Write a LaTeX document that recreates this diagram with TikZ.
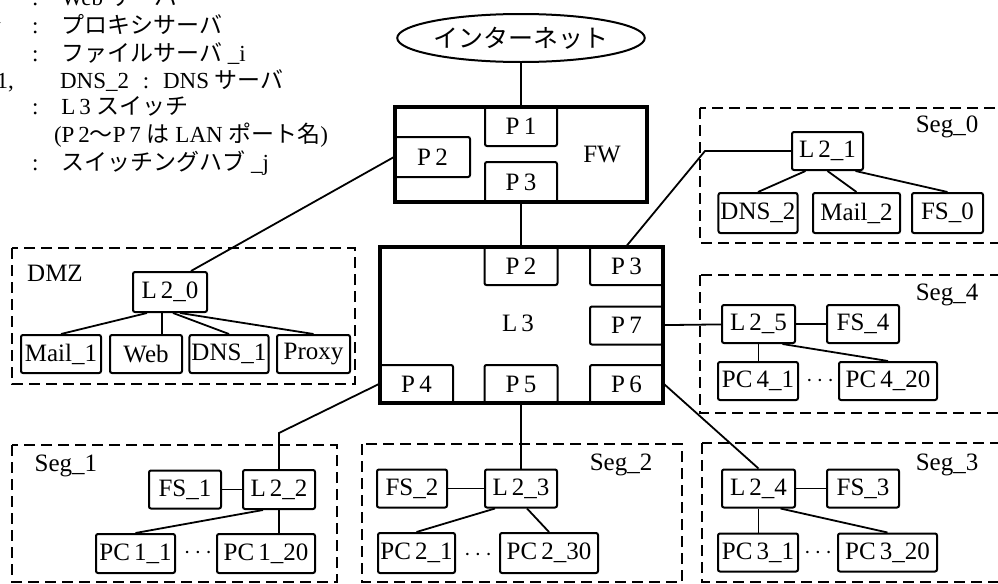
\documentclass[tikz,border=0pt]{standalone}
\usepackage{fontspec}
\setmainfont{Liberation Serif}
\newfontfamily\jp{Noto Sans CJK JP}
\usetikzlibrary{positioning}
\usetikzlibrary{shapes.geometric}
\tikzstyle{dev}=[draw,line width=1pt,rounded corners=1pt,inner sep=1pt,minimum height=19pt]
\tikzstyle{port}=[dev,minimum width=36.5pt]
\tikzstyle{unit}=[draw,line width=1.7pt,inner sep=0pt]
\tikzstyle{seg}=[line width=1pt,dash pattern=on 5.5pt off 3pt]
\tikzstyle{link}=[line width=.9pt]
\tikzstyle{legend}=[anchor=base west,font=\fontsize{11.5}{13}\selectfont]

\begin{document}
\begin{tikzpicture}[x=.5pt,y=-.5pt,every node/.style={font=\fontsize{12.5}{14}\selectfont}]
	\useasboundingbox (0,0) rectangle (998,584);
	\clip (0,0) rectangle (998,584);

	% legend (cut at the left and top)
	\node[legend] (lg1) at (25,5)   {:\hspace{1em}Web {\jp サーバ}};
	\node[legend,anchor=base east] (lgy) at (8,33) {y};
	\node[legend] (lg2) at (25,33)  {:\hspace{1em}{\jp プロキシサーバ}};
	\node[legend] (lg3) at (25,61)  {:\hspace{1em}{\jp ファイルサーバ} \_i};
	\node[legend,anchor=base east] (lgd) at (21,88) {\_1,};
	\node[legend] (lg4) at (53,88)  {DNS\_2\hspace{.6em}:\hspace{.6em}DNS {\jp サーバ}};
	\node[legend] (lg5) at (25,114) {:\hspace{1em}L\,3 {\jp スイッチ}};
	\node[legend] (lg6) at (47,142) {(P\,2{\jp ～}P\,7 {\jp は} LAN {\jp ポート名})};
	\node[legend,anchor=base east] (lgi) at (5,170) {i};
	\node[legend] (lg7) at (25,170) {:\hspace{1em}{\jp スイッチングハブ} \_j};

	% internet and FW
	\node[draw,ellipse,line width=1pt,inner sep=0pt,minimum width=101pt,minimum height=24pt] (inet) at (521,38) {\jp インターネット};
	\node[unit,minimum width=126pt,minimum height=47.5pt] (fw) at (521,154.5) {};
	\node (fwname) at (602,155) {FW};
	\node[port,minimum width=36pt,minimum height=19.5pt] (fwp1) at (521,126.5) {P\,1};
	\node[port,minimum width=37.5pt,minimum height=20pt] (fwp2) at (432.5,157) {P\,2};
	\node[port,minimum width=36pt,minimum height=20pt] (fwp3) at (521,182) {P\,3};

	% L3 switch
	\node[unit,minimum width=141.5pt,minimum height=78pt] (l3) at (521.5,325) {};
	\node (l3name) at (518,323) {L\,3};
	\foreach \n/\x/\y in {2/521/266, 3/626.5/266, 7/626.5/325.5, 4/416.5/384, 5/521/384, 6/626.5/384}
		\node[port] (l3p\n) at (\x,\y) {P\,\n};

	% DMZ
	\draw[seg] (12,248) rectangle (355,384);
	\node (dmzname) at (55,273) {DMZ};
	\node[dev,minimum width=37pt,minimum height=20pt] (l20) at (170,292) {L\,2\_0};
	\node[dev,minimum width=40pt] (mail1) at (61,354) {Mail\_1};
	\node[dev,minimum width=36pt] (web) at (146,354) {Web};
	\node[dev,minimum width=38pt] (dns1) at (229,354) {DNS\_1};
	\node[dev,minimum width=36.5pt] (proxy) at (313.5,354) {Proxy};

	% Seg_0
	\draw[seg] (700,108) rectangle (1010,243);
	\node (seg0name) at (947,127) {Seg\_0};
	\node[dev,minimum width=35.5pt] (l21) at (827.5,151) {L\,2\_1};
	\node[dev,minimum width=37pt,minimum height=20pt] (dns2) at (758,213) {DNS\_2};
	\node[dev,minimum width=43.5pt,minimum height=20pt] (mail2) at (856.5,213) {Mail\_2};
	\node[dev,minimum width=35.5pt,minimum height=20pt] (fs0) at (947.5,213) {FS\_0};

	% Seg_4
	\draw[seg] (700,275) rectangle (1010,413);
	\node (seg4name) at (947,295) {Seg\_4};
	\node[dev,minimum width=36.5pt] (l25) at (758.5,324) {L\,2\_5};
	\node[dev,minimum width=36pt,right=15pt of l25] (fs4) {FS\_4};
	\node[dev,minimum width=40pt] (pc41) at (758,381) {PC\,4\_1};
	\node[dev,minimum width=49pt] (pc420) at (888,381) {PC\,4\_20};
	\node (dots4) at (820,381) {$\cdots$};

	% Seg_1
	\draw[seg] (12,445) rectangle (337,582);
	\node (seg1name) at (66,466) {Seg\_1};
	\node[dev,minimum width=36pt,minimum height=19.5pt] (l22) at (279,489.5) {L\,2\_2};
	\node[dev,minimum width=36pt,left=10pt of l22] (fs1) {FS\_1};
	\node[dev,minimum width=39.5pt,minimum height=19.5pt] (pc11) at (135.5,553.5) {PC\,1\_1};
	\node[dev,minimum width=49pt,minimum height=19.5pt] (pc120) at (266,553.5) {PC\,1\_20};
	\node (dots1) at (198,553) {$\cdots$};

	% Seg_2
	\draw[seg] (362,444) rectangle (682,582);
	\node (seg2name) at (621,465) {Seg\_2};
	\node[dev,minimum width=36pt] (l23) at (521,488.5) {L\,2\_3};
	\node[dev,minimum width=35pt,left=18pt of l23] (fs2) {FS\_2};
	\node[dev,minimum width=38.5pt,minimum height=20pt] (pc21) at (416.5,553) {PC\,2\_1};
	\node[dev,minimum width=49pt,minimum height=20pt] (pc230) at (549,553) {PC\,2\_30};
	\node (dots2) at (478,555) {$\cdots$};

	% Seg_3
	\draw[seg] (702,443) rectangle (1010,582);
	\node (seg3name) at (947,465) {Seg\_3};
	\node[dev,minimum width=36.5pt] (l24) at (758.5,488.5) {L\,2\_4};
	\node[dev,minimum width=36pt,right=15pt of l24] (fs3) {FS\_3};
	\node[dev,minimum width=40pt] (pc31) at (758,552.5) {PC\,3\_1};
	\node[dev,minimum width=49.5pt] (pc320) at (887.5,552.5) {PC\,3\_20};
	\node (dots3) at (818,553) {$\cdots$};

	% links
	\coordinate (k0) at (705,151);
	\coordinate (k1) at (279,433);
	\draw[link] (inet) -- (fwp1);
	\draw[link] (fwp3) -- (l3p2);
	\draw[link] (fwp2.west) -- (l20.45);
	\draw[link] (l3p3.north) -- (k0) -- (l21.west);
	\draw[link] (l3p7) -- (l25);
	\draw[link] (l3p6.east) -- (l24.north);
	\draw[link] (l3p5) -- (l23);
	\draw[link] (l3p4.west) -- (k1) -- (l22.north);

	\draw[link] ([xshift=-11.5pt]l20.south) -- (mail1.north);
	\draw[link] ([xshift=-4pt]l20.south) coordinate (w0) -- (w0 |- web.north);
	\draw[link] ([xshift=1.5pt]l20.south) -- (dns1.north);
	\draw[link] ([xshift=5pt]l20.south) -- (proxy.north);

	\draw[link] ([xshift=-11pt]l21.south) -- (dns2.north);
	\draw[link] (l21.south) -- (mail2.north);
	\draw[link] ([xshift=14pt]l21.south) -- (fs0.north);

	\draw[link] (l25) -- (fs4);
	\draw[link] (l25.south) -- (l25.south |- pc41.north);
	\draw[link] ([xshift=12pt]l25.south) -- (pc420.north);

	\draw[link] (fs1) -- (l22);
	\draw[link] (l22.south) -- (l22.south |- pc120.north);
	\draw[link] ([xshift=-8pt]l22.south) -- (pc11.north);

	\draw[link] (fs2) -- (l23);
	\draw[link] ([xshift=-13pt]l23.south) -- (pc21.north);
	\draw[link] ([xshift=3pt]l23.south) -- (pc230.north);

	\draw[link] (l24) -- (fs3);
	\draw[link] (l24.south) -- (l24.south |- pc31.north);
	\draw[link] ([xshift=11pt]l24.south) -- (pc320.north);
\end{tikzpicture}
\end{document}
